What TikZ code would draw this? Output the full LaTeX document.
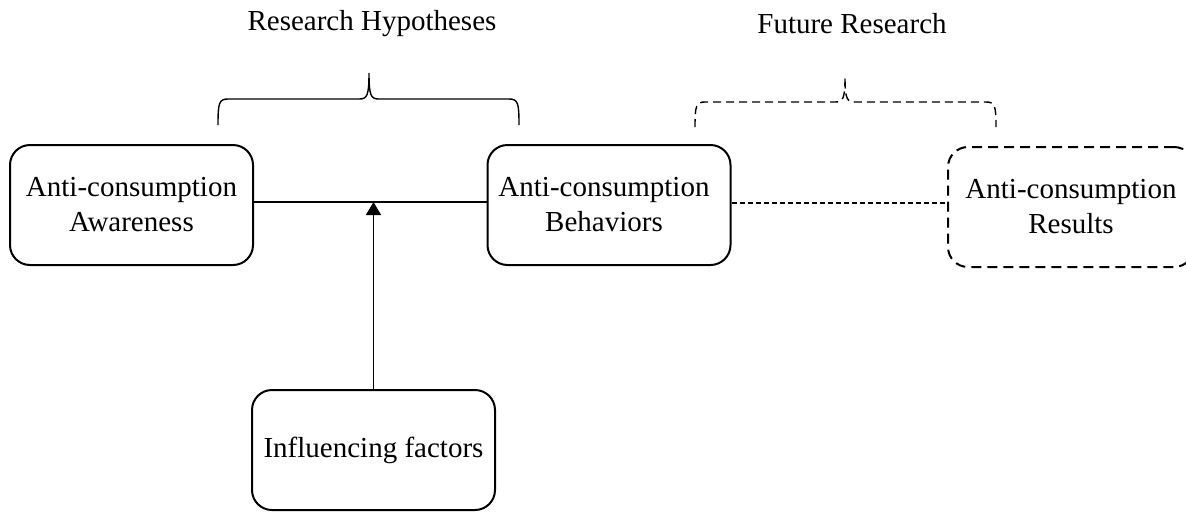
\documentclass[tikz,border=0pt]{standalone}
\usepackage{fontspec}
\setmainfont{Liberation Serif}
\usetikzlibrary{arrows.meta,calc}
\begin{document}
\begin{tikzpicture}[x=1pt,y=-1pt,
  box/.style={draw,line width=2pt,rounded corners=20pt,minimum width=243pt,minimum height=120pt,align=center,inner sep=0pt,font=\fontsize{29}{35}\selectfont},
  dbox/.style={box,dash pattern=on 10pt off 6pt},
  link/.style={line width=1.2pt},
  dlink/.style={line width=1.2pt,dash pattern=on 5pt off 3pt},
  bracesolid/.style={line width=1.4pt},
  bracedash/.style={line width=1.4pt,dash pattern=on 8pt off 5pt},
  title/.style={font=\fontsize{29}{35}\selectfont,inner sep=0pt}]
\clip (0,0) rectangle (1186,512);
\fill[white] (0,0) rectangle (1186,512);

\node[title] (t1) at (372,24) {Research Hypotheses};
\node[title] (t2) at (852,24) {Future Research};

\node[box] (A) at (131.5,205) {Anti-consumption\\Awareness};
\node[box] (B) at (609,205) {Anti-consumption\hspace*{10pt}\\Behaviors\hspace*{10pt}};
\node[dbox,minimum width=246pt] (C) at (1071,207) {Anti-consumption\\Results};
\node[box] (D) at (373.5,450) {Influencing factors};

\coordinate (lv) at (0,202);
\coordinate (dv) at (0,203);
\draw[link] (A.east |- lv) -- (B.west |- lv);
\draw[dlink] (B.east |- dv) -- (C.west |- dv);
\draw[link,-{Triangle[length=13pt,width=15pt]}] (D.north) -- (D.north |- lv);

% solid brace
\coordinate (b1l) at (218,125);
\coordinate (b1m) at (369,73);
\coordinate (b1r) at (519,125);
\draw[bracesolid] (b1l) .. controls (218,103) and (219,99) .. (228,99) -- (359,99)
  .. controls (367,99) and (369,96) .. (b1m)
  .. controls (369,96) and (371,99) .. (379,99) -- (509,99)
  .. controls (518,99) and (519,103) .. (b1r);
% dashed brace
\coordinate (b2l) at (695,127);
\coordinate (b2m) at (845,77);
\coordinate (b2r) at (996,127);
\draw[bracedash] (b2l) .. controls (695,106) and (696,102) .. (705,102) -- (835,102)
  .. controls (843,102) and (845,99) .. (b2m)
  .. controls (845,99) and (847,102) .. (855,102) -- (986,102)
  .. controls (995,102) and (996,106) .. (b2r);
\end{tikzpicture}
\end{document}
